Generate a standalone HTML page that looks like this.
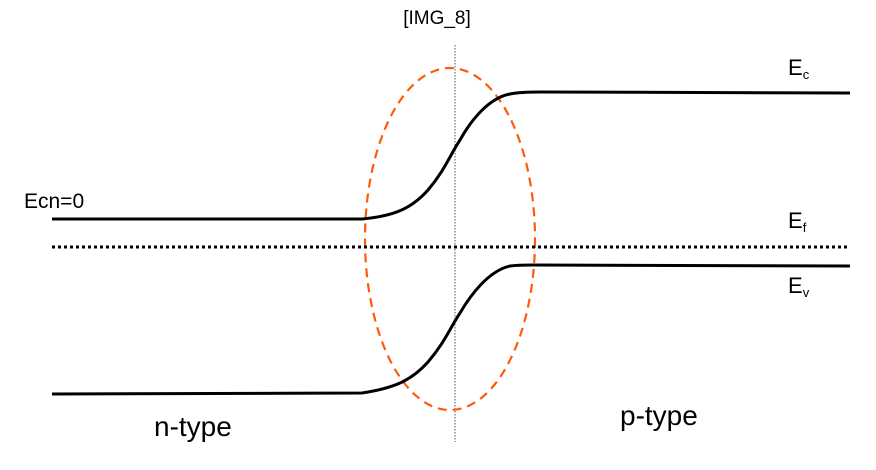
<!DOCTYPE html>
<html><head><meta charset="utf-8"><style>
body{margin:0;background:#fff;width:876px;height:470px;overflow:hidden}
svg{display:block}
text{font-family:"Liberation Sans","DejaVu Sans",sans-serif;fill:#000}
</style></head><body>
<svg width="876" height="470" viewBox="0 0 876 470">
<text x="437" y="24" font-size="19" text-anchor="middle">[IMG_8]</text>
<line x1="455" y1="45" x2="455" y2="442" stroke="#555" stroke-width="1" stroke-dasharray="1.5,1.5"/>
<ellipse cx="450" cy="239" rx="85" ry="171" fill="none" stroke="#ff5a0a" stroke-width="2.2" stroke-dasharray="9,6"/>
<path d="M52,219 L362,219 C395,216 412,208 428,190 C445,170 450,155 460,140 C470,122 488,98 510,94 C520,92 530,92 540,92 L850,93" fill="none" stroke="#000" stroke-width="3"/>
<path d="M52,394 L362,393 C395,388 412,380 428,362 C445,342 450,328 460,313 C470,296 488,271 510,266 C518,265 525,265 532,265 L850,266" fill="none" stroke="#000" stroke-width="3"/>
<line x1="52" y1="247" x2="850" y2="247" stroke="#000" stroke-width="3" stroke-dasharray="3,3"/>
<text x="24" y="208" font-size="21">Ecn=0</text>
<text x="788" y="75" font-size="22">E<tspan font-size="13" dy="4">c</tspan></text>
<text x="788" y="228" font-size="22">E<tspan font-size="13" dy="4">f</tspan></text>
<text x="788" y="293" font-size="22">E<tspan font-size="13" dy="4">v</tspan></text>
<text x="154" y="436" font-size="28">n-type</text>
<text x="620" y="425" font-size="28">p-type</text>
</svg>
</body></html>
